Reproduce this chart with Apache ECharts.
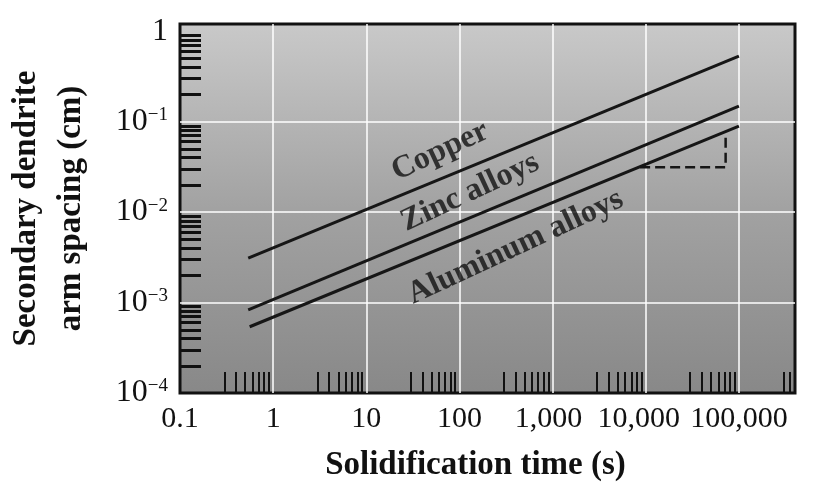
<!DOCTYPE html>
<html lang="en">
<head>
    <meta charset="UTF-8">
    <title>Secondary dendrite arm spacing</title>
    <script src="https://cdn.jsdelivr.net/npm/echarts@6.0.0/dist/echarts.min.js"></script>
    <style>
        html, body { margin: 0; padding: 0; background: #fff; }
    </style>
</head>
<body>
    <div id="chart" style="width: 829px; height: 491px;"></div>
    <script>
        // axis ticks (log scale)
        const xTickValues = [0.1, 1, 10, 100, 1000, 10000, 100000];
        const xTickLabels = ['0.1', '1', '10', '100', '{l|1,000}', '{ll|10,000}', '100,000'];
        const xGridValues = [1, 10, 100, 1000, 10000, 100000];
        const yTickValues = [1e-4, 1e-3, 1e-2, 1e-1, 1];
        const yTickLabels = ['10{s|−4}', '10{s|−3}', '10{s|−2}', '10{s|−1}', '1'];
        const yGridValues = [1e-3, 1e-2, 1e-1];

        // minor tick marks drawn inside the frame
        const xMinorTicks = [
            0.3, 0.4, 0.5, 0.6, 0.7, 0.8, 0.9,
            3, 4, 5, 6, 7, 8, 9,
            30, 40, 50, 60, 70, 80, 90,
            300, 400, 500, 600, 700, 800, 900,
            3000, 4000, 5000, 6000, 7000, 8000, 9000,
            30000, 40000, 50000, 60000, 70000, 80000, 90000,
            300000, 350000
        ];
        const yMinorTicks = [
            2e-4, 3e-4, 4e-4, 5e-4, 6e-4, 7e-4, 8e-4, 9e-4,
            2e-3, 3e-3, 4e-3, 5e-3, 6e-3, 7e-3, 8e-3, 9e-3,
            2e-2, 3e-2, 4e-2, 5e-2, 6e-2, 7e-2, 8e-2, 9e-2,
            0.2, 0.3, 0.4, 0.5, 0.6, 0.7, 0.8, 0.9
        ];

        // solidification time (s) vs arm spacing (cm), line end points
        const copperTime = [0.54, 100000];
        const copperSpacing = [0.0031, 0.53];
        const zincTime = [0.54, 100000];
        const zincSpacing = [0.00083, 0.148];
        const aluminumTime = [0.56, 100000];
        const aluminumSpacing = [0.00054, 0.089];

        // slope triangle under the aluminum line
        const slopeTime = [8700, 72000, 72000];
        const slopeSpacing = [0.0314, 0.0314, 0.074];

        // line labels
        const labelNames = ['Copper', 'Zinc alloys', 'Aluminum alloys'];
        const labelTime = [62, 130, 400];
        const labelSpacing = [0.047, 0.0165, 0.0041];

        function pairs(xs, ys) {
            return xs.map(function (x, i) { return [x, ys[i]]; });
        }
        function lookup(values, labels, v) {
            for (var i = 0; i < values.length; i++) {
                if (Math.abs(Math.log10(v) - Math.log10(values[i])) < 1e-6) return labels[i];
            }
            return '';
        }

        var chart = echarts.init(document.getElementById('chart'));

        var serif = '"Liberation Serif", "Times New Roman", serif';
        var lineStyle = { color: '#161616', width: 3 };

        var option = {
            animation: false,
            backgroundColor: '#ffffff',
            grid: {
                left: 180, right: 34, top: 24, bottom: 98,
                outerBoundsMode: 'none',
                show: true,
                borderColor: '#111',
                borderWidth: 3,
                backgroundColor: {
                    type: 'linear', x: 0, y: 0, x2: 0, y2: 1,
                    colorStops: [
                        { offset: 0, color: '#c9c9c9' },
                        { offset: 0.5, color: '#a2a2a2' },
                        { offset: 1, color: '#888888' }
                    ]
                }
            },
            xAxis: [{
                type: 'log',
                min: 0.1,
                max: 400000,
                name: 'Solidification time (s)',
                nameLocation: 'middle',
                nameGap: 56,
                nameTextStyle: {
                    fontFamily: serif, fontSize: 33, fontWeight: 'bold', color: '#111',
                    padding: [0, 24, 0, 0]
                },
                axisLine: { show: false },
                axisTick: { show: false, customValues: xGridValues },
                axisLabel: {
                    customValues: xTickValues,
                    hideOverlap: false,
                    margin: 11,
                    fontFamily: serif, fontSize: 30, color: '#111',
                    formatter: function (v) { return lookup(xTickValues, xTickLabels, v); },
                    rich: {
                        l: { fontFamily: serif, fontSize: 30, color: '#111', padding: [0, 8, 0, 0] },
                        ll: { fontFamily: serif, fontSize: 30, color: '#111', padding: [0, 14, 0, 0] }
                    }
                },
                splitLine: { show: true, lineStyle: { color: 'rgba(255,255,255,0.75)', width: 2 } }
            }, {
                type: 'log',
                min: 0.1,
                max: 400000,
                position: 'bottom',
                axisLine: { show: false },
                axisLabel: { show: false },
                splitLine: { show: false },
                axisTick: {
                    show: true, inside: true, length: 21,
                    customValues: xMinorTicks,
                    lineStyle: { color: '#111', width: 2 }
                }
            }],
            yAxis: [{
                type: 'log',
                min: 1e-4,
                max: 1.2,
                name: 'Secondary dendrite\narm spacing (cm)',
                nameLocation: 'middle',
                nameRotate: 90,
                nameGap: 86,
                nameTextStyle: { fontFamily: serif, fontSize: 33, fontWeight: 'bold', color: '#111', lineHeight: 45 },
                axisLine: { show: false },
                axisTick: { show: false, customValues: yGridValues },
                axisLabel: {
                    customValues: yTickValues,
                    margin: 12,
                    fontFamily: serif, fontSize: 32, color: '#111',
                    formatter: function (v) { return lookup(yTickValues, yTickLabels, v); },
                    rich: {
                        s: { fontFamily: serif, fontSize: 19, color: '#111', verticalAlign: 'top', lineHeight: 19 }
                    }
                },
                splitLine: { show: true, lineStyle: { color: 'rgba(255,255,255,0.75)', width: 2 } }
            }, {
                type: 'log',
                min: 1e-4,
                max: 1.2,
                position: 'left',
                axisLine: { show: false },
                axisLabel: { show: false },
                splitLine: { show: false },
                axisTick: {
                    show: true, inside: true, length: 21,
                    customValues: yMinorTicks,
                    lineStyle: { color: '#111', width: 3 }
                }
            }],
            series: [
                { name: 'Copper', type: 'line', symbol: 'none', lineStyle: lineStyle, data: pairs(copperTime, copperSpacing) },
                { name: 'Zinc alloys', type: 'line', symbol: 'none', lineStyle: lineStyle, data: pairs(zincTime, zincSpacing) },
                { name: 'Aluminum alloys', type: 'line', symbol: 'none', lineStyle: lineStyle, data: pairs(aluminumTime, aluminumSpacing) },
                {
                    name: 'slope', type: 'line', symbol: 'none',
                    lineStyle: { color: '#161616', width: 2.5, type: [10, 5] },
                    data: pairs(slopeTime, slopeSpacing)
                },
                {
                    name: 'labels', type: 'scatter', symbolSize: 1, silent: true,
                    itemStyle: { color: 'transparent' },
                    label: {
                        show: true, position: 'inside', rotate: 25,
                        formatter: '{b}',
                        fontFamily: serif, fontSize: 32, fontWeight: 'bold', color: '#111',
                        textShadowColor: 'rgba(240,240,240,0.9)',
                        textShadowOffsetX: 1.5, textShadowOffsetY: 1.5, textShadowBlur: 0
                    },
                    data: labelNames.map(function (n, i) {
                        return { name: n, value: [labelTime[i], labelSpacing[i]] };
                    })
                }
            ]
        };

        chart.setOption(option);
    </script>
</body>
</html>
